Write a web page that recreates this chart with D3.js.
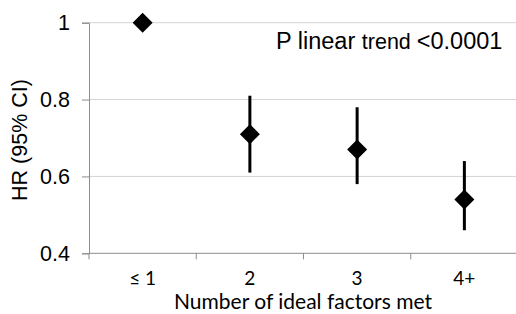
<!DOCTYPE html>
<html><head><meta charset="utf-8">
<script src="https://cdn.jsdelivr.net/npm/d3@7"></script>
<style>body{margin:0;background:#fff}svg{display:block}</style>
</head><body>
<svg id="c" width="516" height="314"></svg>
<script>
const categories = ["≤ 1", "2", "3", "4+"];
const hr = [1.0, 0.71, 0.67, 0.54];
const ciLow = [null, 0.61, 0.58, 0.46];
const ciHigh = [null, 0.81, 0.78, 0.64];
const yTicks = [0.4, 0.6, 0.8, 1];
const yTickLabels = ["0.4", "0.6", "0.8", "1"];

const svg = d3.select("#c");
const x = d3.scaleBand().domain(categories).range([89, 518]);
const y = d3.scaleLinear().domain([0.4, 1]).range([253.3, 22.7]);

// gridlines
svg.append("g").selectAll("line").data(yTicks.filter(d => d > 0.4)).join("line")
  .attr("x1", 89).attr("x2", 518).attr("y1", d => y(d)).attr("y2", d => y(d))
  .attr("stroke", "#d4d4d4").attr("stroke-width", 1);

// y axis
const yAxis = svg.append("g").attr("transform", "translate(89,0)")
  .call(d3.axisLeft(y).tickValues(yTicks).tickSize(7).tickFormat((d, i) => yTickLabels[i]));
yAxis.select(".domain").attr("stroke", "#8c8c8c");
yAxis.selectAll(".tick line").attr("stroke", "#8c8c8c");
yAxis.selectAll(".tick text").attr("x", -19).attr("font-family", "Liberation Sans, Arial, sans-serif")
  .attr("font-size", 21.5).attr("fill", "#000");

// x axis
const xb = svg.append("g").attr("transform", "translate(0,253.3)");
xb.append("line").attr("x1", 89).attr("x2", 518).attr("stroke", "#8c8c8c");
const bounds = categories.map(c => x(c)).concat([x.range()[1]]);
xb.selectAll("line.t").data(bounds).join("line").attr("class", "t")
  .attr("x1", d => d).attr("x2", d => d).attr("y1", 0).attr("y2", 6).attr("stroke", "#8c8c8c");
xb.selectAll("text").data(categories).join("text")
  .attr("x", d => x(d) + x.bandwidth() / 2).attr("y", 31.5)
  .attr("text-anchor", "middle").attr("font-family", "Lato, sans-serif").attr("font-size", 19)
  .attr("fill", "#000").text(d => d);

// titles
svg.append("text").attr("x", 303).attr("y", 309.3).attr("text-anchor", "middle")
  .attr("font-family", "Lato, sans-serif").attr("font-size", 21).attr("fill", "#000")
  .text("Number of ideal factors met");
svg.append("text").attr("transform", "translate(27,140) rotate(-90)").attr("text-anchor", "middle")
  .attr("font-family", "Liberation Sans, Arial, sans-serif").attr("font-size", 21.5).attr("fill", "#000")
  .text("HR (95% CI)");

// annotation
const ann = svg.append("text").attr("x", 276).attr("y", 49)
  .attr("font-family", "Liberation Sans, Arial, sans-serif").attr("fill", "#000");
ann.append("tspan").attr("font-size", 23.5).text("P linear ");
ann.append("tspan").attr("font-size", 21.5).text("trend ");
ann.append("tspan").attr("font-size", 23.5).text("<0.0001");

// error bars
const pts = categories.map((c, i) => ({c, v: hr[i], lo: ciLow[i], hi: ciHigh[i]}));
svg.append("g").selectAll("line").data(pts.filter(d => d.lo != null)).join("line")
  .attr("x1", d => x(d.c) + x.bandwidth() / 2).attr("x2", d => x(d.c) + x.bandwidth() / 2)
  .attr("y1", d => y(d.lo)).attr("y2", d => y(d.hi))
  .attr("stroke", "#000").attr("stroke-width", 3);

// diamonds
const r = 10;
svg.append("g").selectAll("path").data(pts).join("path")
  .attr("d", d => {
    const cx = x(d.c) + x.bandwidth() / 2, cy = y(d.v);
    return `M${cx},${cy - r}L${cx + r},${cy}L${cx},${cy + r}L${cx - r},${cy}Z`;
  })
  .attr("fill", "#000");
</script>
</body></html>
